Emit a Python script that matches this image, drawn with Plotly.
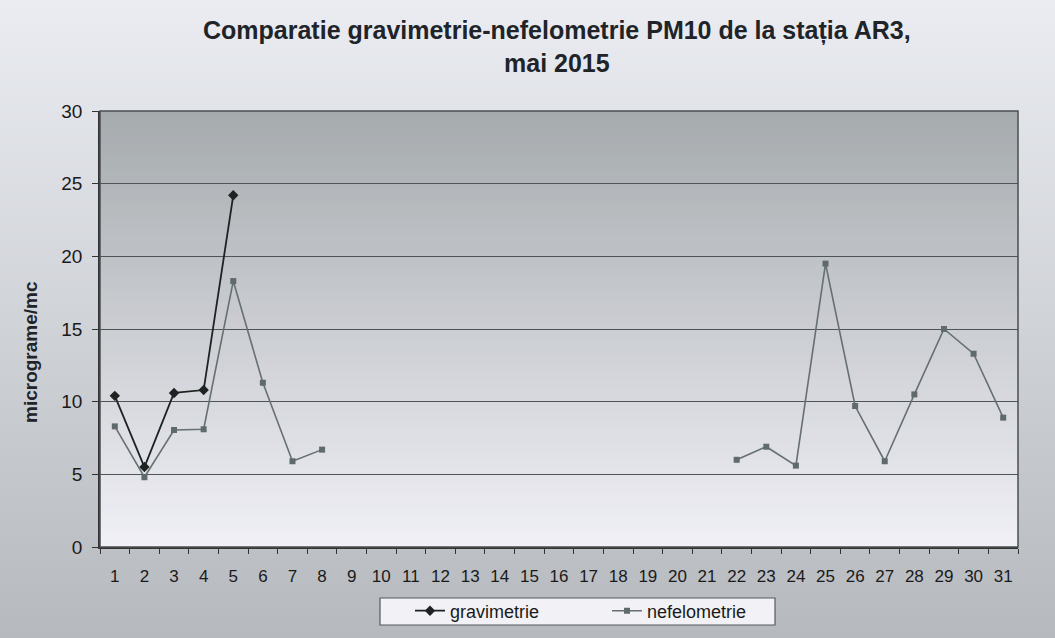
import plotly.graph_objects as go

days = [str(d) for d in range(1, 32)]
gravimetrie = [10.4, 5.5, 10.6, 10.8, 24.2] + [None] * 26
nefelometrie = [8.3, 4.8, 8.05, 8.1, 18.3, 11.3, 5.9, 6.7] + [None] * 13 + \
    [6.0, 6.9, 5.6, 19.5, 9.7, 5.9, 10.5, 15.0, 13.3, 8.9]

title_text = "Comparatie gravimetrie-nefelometrie PM10 de la stația AR3,<br>mai 2015"
y_title = "micrograme/mc"

W, H = 1055, 638
ml, mr, mt, mb = 100, 37, 111, 91
pw, ph = W - ml - mr, H - mt - mb

def px_x(p):
    return (p - ml) / pw

def px_y(p):
    return (H - mb - p) / ph

fig = go.Figure()
fig.add_trace(go.Scatter(x=days, y=gravimetrie, name="gravimetrie", mode="lines+markers",
                         line=dict(color="#1e2222", width=1.8),
                         marker=dict(symbol="diamond", size=8, color="#1e2222"),
                         connectgaps=False))
fig.add_trace(go.Scatter(x=days, y=nefelometrie, name="nefelometrie", mode="lines+markers",
                         line=dict(color="#667070", width=1.6),
                         marker=dict(symbol="square", size=6, color="#5f6a6a"),
                         connectgaps=False))

def lerp(c1, c2, t):
    return "rgb(%d,%d,%d)" % tuple(round(a + (b - a) * t) for a, b in zip(c1, c2))

shapes = []
n = 80
y0p, y1p = px_y(H), px_y(0)
x0p, x1p = px_x(0), px_x(W)
for i in range(n):
    ya = y1p - (y1p - y0p) * i / n
    yb = y1p - (y1p - y0p) * (i + 1) / n
    shapes.append(dict(type="rect", xref="paper", yref="paper", x0=x0p, x1=x1p, y0=yb - 0.002, y1=ya,
                       fillcolor=lerp((234, 236, 242), (182, 186, 190), i / (n - 1)),
                       line=dict(width=0), layer="below"))
for i in range(n):
    ya = 1 - i / n
    yb = 1 - (i + 1) / n
    shapes.append(dict(type="rect", xref="paper", yref="paper", x0=0, x1=1, y0=yb - 0.002, y1=ya,
                       fillcolor=lerp((166, 171, 174), (240, 240, 246), i / (n - 1)),
                       line=dict(width=0), layer="below"))
shapes.append(dict(type="rect", xref="paper", yref="paper", x0=0, x1=1, y0=0, y1=1,
                   line=dict(color="#4a4f50", width=1.5), layer="above"))
# legend box
shapes.append(dict(type="rect", xref="paper", yref="paper", x0=px_x(380), x1=px_x(775),
                   y0=px_y(625), y1=px_y(598), fillcolor="#f2f2f6",
                   line=dict(color="#555a5a", width=1.2), layer="above"))

fig.update_layout(
    width=W, height=H,
    margin=dict(l=ml, r=mr, t=mt, b=mb, autoexpand=False),
    paper_bgcolor="#d8dbe0",
    plot_bgcolor="rgba(0,0,0,0)",
    shapes=shapes,
    showlegend=True,
    legend=dict(orientation="h", x=px_x(410), xanchor="left", y=px_y(611), yanchor="middle",
                bgcolor="rgba(0,0,0,0)", borderwidth=0,
                entrywidth=152, entrywidthmode="pixels",
                font=dict(family="Liberation Sans, Arial", size=18, color="#1a1a1a")),
    font=dict(family="Liberation Sans, Arial", color="#1a1a1a"),
    annotations=[
        dict(text="<b>" + title_text.replace("<br>", "</b><br><b>") + "</b>", xref="paper", yref="paper",
             x=px_x(557), y=px_y(46), xanchor="center", yanchor="middle",
             showarrow=False, font=dict(size=25, color="#202428", family="Liberation Sans, Arial")),
        dict(text="<b>" + y_title + "</b>", xref="paper", yref="paper",
             x=px_x(30), y=px_y(352), xanchor="center", yanchor="middle",
             textangle=-90, showarrow=False, font=dict(size=19, color="#202428")),
    ],
    xaxis=dict(type="category", categoryorder="array", categoryarray=days,
               tickson="boundaries", ticks="outside", ticklen=5, tickcolor="#333",
               showline=True, linecolor="#333", linewidth=1.5, showgrid=False,
               ticklabelstandoff=13,
               tickfont=dict(size=17, color="#1a1a1a"), range=[-0.5, 30.5]),
    yaxis=dict(range=[0, 30], tickvals=[0, 5, 10, 15, 20, 25, 30], ticks="outside", ticklen=6,
               tickcolor="#333", showline=True, linecolor="#333", linewidth=1.5,
               showgrid=True, gridcolor="#4f5555", gridwidth=1.2, zeroline=False,
               ticklabelstandoff=6,
               tickfont=dict(size=19, color="#1a1a1a")),
)

fig.write_html("out.html", config={"displayModeBar": False},
               post_script="document.body.style.margin='0';document.body.style.padding='0';")
